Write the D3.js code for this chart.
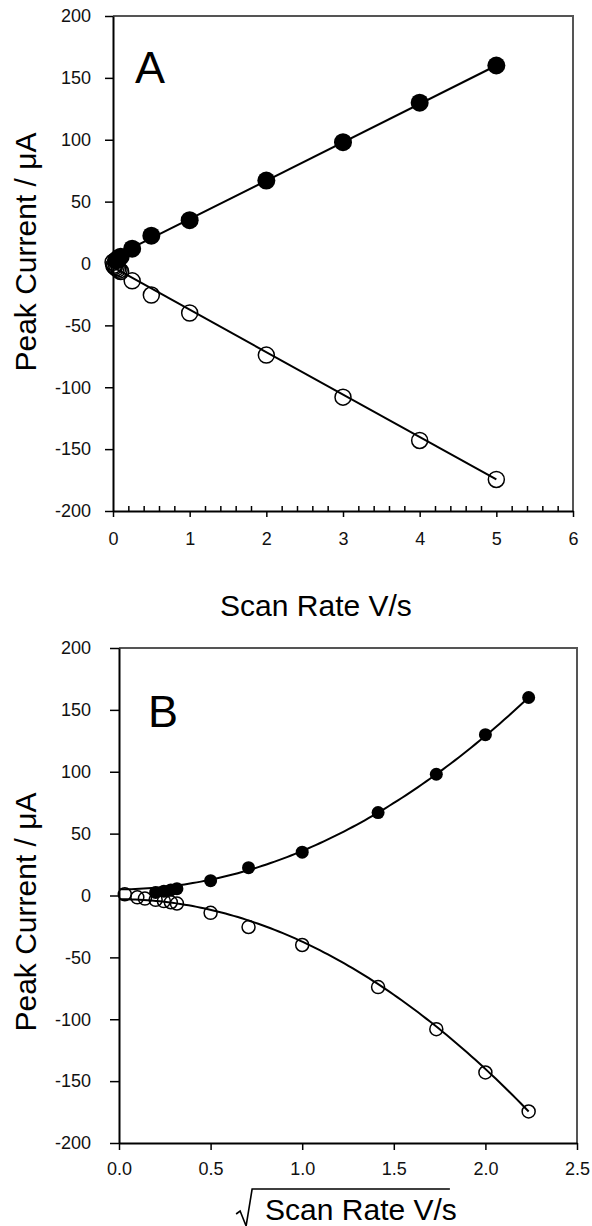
<!DOCTYPE html>
<html>
<head>
<meta charset="utf-8">
<script src="https://cdn.jsdelivr.net/npm/d3@7"></script>
<style>
body { margin: 0; background: #fff; }
svg { display: block; font-family: "Liberation Sans", Arial, sans-serif; }
</style>
</head>
<body>
<div id="chart-container"></div>
<script>
// values (scan rate in V/s, current in uA)
var anodicRates = [0.04, 0.06, 0.08, 0.1, 0.25, 0.5, 1, 2, 3, 4, 5];
var anodicCurrent = [2.5, 3.5, 4.5, 5.5, 12, 22.5, 35, 67, 98, 130, 160];
var cathodicRates = [0.001, 0.01, 0.02, 0.04, 0.06, 0.08, 0.1, 0.25, 0.5, 1, 2, 3, 4, 5];
var cathodicCurrent = [1, -1.5, -2.5, -3.5, -4.5, -5.5, -6.5, -14, -25.5, -40, -74, -108, -143, -174.5];

// linear fits ip = a + b * v, as drawn
var anodicFit = { a: 5, b: 31 };
var cathodicFit = { a: -3, b: -34.3 };

var yTicks = [-200, -150, -100, -50, 0, 50, 100, 150, 200];
var xTicksA = [0, 1, 2, 3, 4, 5, 6];
var xMinorA = d3.range(0.2, 6, 0.2).filter(function(v) { return Math.abs(v - Math.round(v)) > 0.01; });
var xTicksB = [0, 0.5, 1, 1.5, 2, 2.5];

var yTitle = "Peak Current / μA";
var xTitle = "Scan Rate V/s";

var svg = d3.select("#chart-container")
  .append("svg")
  .attr("width", 592)
  .attr("height", 1226);

function drawPanel(p) {
  var w = p.right - p.left, h = p.bottom - p.top;
  var g = svg.append("g").attr("transform", "translate(" + p.left + "," + p.top + ")");

  var x = d3.scaleLinear().domain(p.xDomain).range([0, w]);
  var y = d3.scaleLinear().domain([-200, 200]).range([h, 0]);

  // top and right frame
  g.append("path")
    .attr("d", "M0,0H" + w + "V" + h)
    .attr("fill", "none")
    .attr("stroke", "#555")
    .attr("stroke-width", 2);

  // fit lines
  var line = d3.line()
    .x(function(d) { return x(p.tx(d[0])); })
    .y(function(d) { return y(d[1]); });
  [anodicFit, cathodicFit].forEach(function(f) {
    g.append("path")
      .datum(p.fitRates.map(function(v) { return [v, f.a + f.b * v]; }))
      .attr("d", line)
      .attr("fill", "none")
      .attr("stroke", "#000")
      .attr("stroke-width", 2);
  });

  // open circles (cathodic)
  g.selectAll(".open")
    .data(cathodicRates)
    .enter().append("circle")
    .attr("cx", function(d) { return x(p.tx(d)); })
    .attr("cy", function(d, i) { return y(cathodicCurrent[i]); })
    .attr("r", p.rOpen)
    .attr("fill", "none")
    .attr("stroke", "#000")
    .attr("stroke-width", 1.5);

  // filled circles (anodic)
  g.selectAll(".filled")
    .data(anodicRates)
    .enter().append("circle")
    .attr("cx", function(d) { return x(p.tx(d)); })
    .attr("cy", function(d, i) { return y(anodicCurrent[i]); })
    .attr("r", p.rFill)
    .attr("fill", "#000");

  // y axis
  var ya = g.append("g")
    .call(d3.axisLeft(y).tickValues(yTicks).tickFormat(function(d) { return String(d); })
      .tickSize(p.yTick).tickSizeOuter(0).tickPadding(p.yPad));
  // x axis
  var xa = g.append("g")
    .attr("transform", "translate(0," + h + ")")
    .call(d3.axisBottom(x).tickValues(p.xTicks).tickFormat(p.xFormat)
      .tickSize(p.xTick).tickSizeOuter(0).tickPadding(p.xPad));
  if (p.minor) {
    g.append("g")
      .attr("transform", "translate(0," + h + ")")
      .call(d3.axisBottom(x).tickValues(p.minor).tickFormat("").tickSize(-5).tickSizeOuter(0))
      .call(function(s) { s.select(".domain").remove(); })
      .selectAll("line").attr("stroke", "#000").attr("stroke-width", 1.5);
  }
  [ya, xa].forEach(function(a) {
    a.select(".domain").attr("stroke", "#000").attr("stroke-width", 2);
    a.selectAll(".tick line").attr("stroke", "#000").attr("stroke-width", 1.5);
    a.selectAll("text")
      .attr("fill", "#111")
      .style("font-size", "18px")
      .style("font-family", "'Liberation Sans', Arial, sans-serif");
  });

  // panel letter
  svg.append("text")
    .attr("x", p.letterX)
    .attr("y", p.letterY)
    .style("font-size", "45px")
    .text(p.letter);

  // y title
  svg.append("text")
    .attr("transform", "translate(36," + p.yTitleY + ") rotate(-90)")
    .attr("text-anchor", "middle")
    .style("font-size", "30px")
    .text(yTitle);

  // x title
  return svg.append("text")
    .attr("x", p.xTitleX)
    .attr("y", p.xTitleY)
    .attr("text-anchor", "middle")
    .style("font-size", "30px")
    .text(xTitle);
}

drawPanel({
  left: 113, right: 573, top: 16, bottom: 511,
  xDomain: [0, 6], xTicks: xTicksA, minor: xMinorA,
  xFormat: function(d) { return String(d); },
  tx: function(v) { return v; },
  fitRates: [0, 5],
  rFill: 9, rOpen: 8,
  yTick: 8, yPad: 14, xTick: 6, xPad: 15,
  letter: "A", letterX: 135, letterY: 83,
  yTitleY: 252, xTitleX: 316, xTitleY: 616
});

var bTitle = drawPanel({
  left: 119, right: 577, top: 648, bottom: 1143,
  xDomain: [0, 2.5], xTicks: xTicksB, minor: null,
  xFormat: function(d) { return d.toFixed(1); },
  tx: Math.sqrt,
  fitRates: d3.range(0, 101).map(function(i) { return 5 * (i / 100) * (i / 100); }),
  rFill: 6.5, rOpen: 6.5,
  yTick: 9, yPad: 19, xTick: 7, xPad: 12,
  letter: "B", letterX: 148, letterY: 727,
  yTitleY: 912, xTitleX: 361, xTitleY: 1220
});

// square-root sign over the lower x title
var bb = bTitle.node().getBBox();
svg.append("path")
  .attr("d", "M" + (bb.x - 29) + ",1214 l4,-3 l6,15 l6,-37 H" + (bb.x + bb.width - 7))
  .attr("fill", "none")
  .attr("stroke", "#000")
  .attr("stroke-width", 1.6);
</script>
</body>
</html>
